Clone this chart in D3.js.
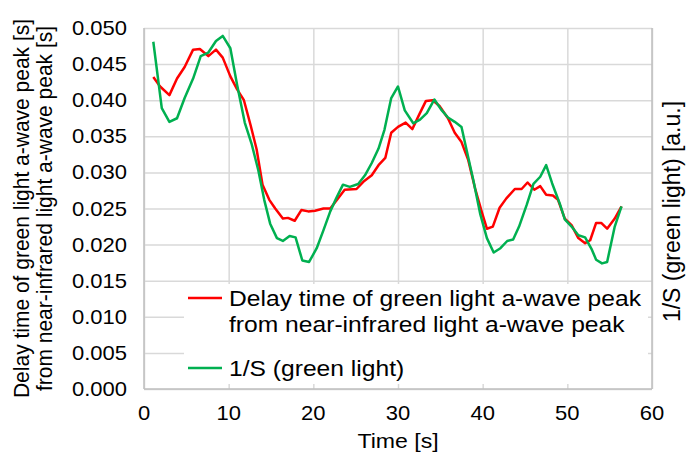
<!DOCTYPE html>
<html><head><meta charset="utf-8">
<script src="https://cdn.jsdelivr.net/npm/d3@7"></script>
<style>
html,body{margin:0;padding:0;background:#fff;}
svg{display:block;font-family:"Liberation Sans",Arial,sans-serif;}
</style></head>
<body><svg id="c" width="686" height="461"></svg>
<script>
const xTicks = [0,10,20,30,40,50,60];
const yTicks = [0,0.005,0.010,0.015,0.020,0.025,0.030,0.035,0.040,0.045,0.050];
const redTime = [1.1,1.9,3.0,3.9,4.8,5.8,6.6,7.6,8.5,9.3,10.2,11.0,11.8,12.6,13.3,14.0,14.8,15.5,16.4,17.0,17.8,18.6,19.4,20.2,21.2,22.0,22.8,23.7,25.1,25.9,26.9,27.7,28.5,29.2,30.0,30.9,31.7,32.5,33.3,34.1,34.9,35.9,36.7,37.5,38.3,39.1,39.9,40.5,41.2,42.0,42.8,43.8,44.6,45.3,46.1,46.8,47.5,48.3,48.9,49.7,50.5,51.3,52.1,52.7,53.4,54.0,54.7,55.6,56.4];
const redVal = [0.0432,0.0419,0.0407,0.0430,0.0446,0.0470,0.0471,0.0461,0.0470,0.0459,0.0433,0.0415,0.0400,0.0365,0.0332,0.0283,0.0262,0.0250,0.0236,0.0237,0.0233,0.0248,0.0246,0.0247,0.0250,0.0250,0.0262,0.0276,0.0277,0.0287,0.0296,0.0310,0.0320,0.0355,0.0363,0.0369,0.0360,0.0380,0.0399,0.0400,0.0392,0.0375,0.0355,0.0342,0.0317,0.0278,0.0245,0.0222,0.0225,0.0251,0.0264,0.0277,0.0277,0.0286,0.0276,0.0281,0.0269,0.0268,0.0262,0.0236,0.0227,0.0209,0.0202,0.0206,0.0230,0.0230,0.0222,0.0236,0.0253];
const greenTime = [1.1,2.1,3.0,3.9,4.8,5.8,6.7,7.6,8.5,9.3,10.2,11.0,11.9,12.7,13.5,14.2,14.9,15.7,16.4,17.2,17.9,18.7,19.5,20.4,21.2,22.0,22.7,23.5,24.3,25.3,26.1,26.9,27.7,28.4,29.2,30.0,30.8,31.8,32.6,33.4,34.3,35.1,35.9,36.7,37.5,38.1,38.9,39.7,40.5,41.3,42.1,42.9,43.6,44.3,45.2,46.0,46.8,47.5,48.2,49.1,49.7,50.5,51.3,52.1,52.9,53.4,54.1,54.7,55.6,56.4];
const greenVal = [0.0481,0.0389,0.0370,0.0375,0.0403,0.0430,0.0461,0.0466,0.0482,0.0489,0.0472,0.0421,0.0369,0.0340,0.0303,0.0262,0.0229,0.0209,0.0205,0.0212,0.0210,0.0178,0.0176,0.0195,0.0220,0.0246,0.0264,0.0283,0.0280,0.0284,0.0296,0.0313,0.0333,0.0359,0.0403,0.0419,0.0386,0.0368,0.0373,0.0382,0.0401,0.0387,0.0376,0.0370,0.0363,0.0331,0.0289,0.0243,0.0209,0.0189,0.0195,0.0205,0.0207,0.0225,0.0255,0.0284,0.0294,0.0310,0.0285,0.0257,0.0235,0.0225,0.0213,0.0210,0.0193,0.0179,0.0174,0.0176,0.0225,0.0253];
const redLabel = ["Delay time of green light a-wave peak","from near-infrared light a-wave peak"];
const greenLabel = "1/S (green light)";
const yTitle = ["Delay time of green light a-wave peak [s]","from near-infrared light a-wave peak [s]"];
const y2Title = "1/S (green light) [a.u.]";
const xTitle = "Time [s]";

const svg = d3.select("#c");
const L=144, R=652, T=28, B=389;
const x = d3.scaleLinear().domain([0,60]).range([L,R]);
const y = d3.scaleLinear().domain([0,0.05]).range([B,T]);
const y2 = d3.scaleLinear().domain([0,0.05]).range([B,T]);

// text stretched horizontally on screen (sx) whatever its rotation
function txt(px, py, str, size, sx, anchor, rot){
  const tr = rot ? `translate(${px},${py}) rotate(${rot}) scale(1,${sx})` : `translate(${px},${py}) scale(${sx},1)`;
  const g = svg.append("g").attr("transform",tr);
  g.append("text").attr("x",0).attr("y",0).attr("font-size",size).attr("text-anchor",anchor||"start").attr("fill","#000").text(str);
  return g;
}

// gridlines
const gx = svg.append("g").attr("transform",`translate(0,${B})`)
  .call(d3.axisBottom(x).tickValues(xTicks).tickSize(-(B-T)).tickFormat(""));
gx.select(".domain").remove();
gx.selectAll("line").attr("stroke","#d9d9d9").attr("stroke-width",1.5);
const gy = svg.append("g").attr("transform",`translate(${L},0)`)
  .call(d3.axisLeft(y).tickValues(yTicks).tickSize(-(R-L)).tickFormat(""));
gy.select(".domain").remove();
gy.selectAll("line").attr("stroke","#d9d9d9").attr("stroke-width",1.5);

// frame
svg.append("line").attr("x1",L).attr("x2",L).attr("y1",T).attr("y2",B).attr("stroke","#bfbfbf").attr("stroke-width",1.5);
svg.append("line").attr("x1",R).attr("x2",R).attr("y1",T).attr("y2",B).attr("stroke","#bfbfbf").attr("stroke-width",1.5);
svg.append("line").attr("x1",L).attr("x2",R).attr("y1",B).attr("y2",B).attr("stroke","#bfbfbf").attr("stroke-width",1.5);

// tick labels (placed with the scales)
const fx = d3.format("d"), fy = d3.format(".3f");
xTicks.forEach(t => txt(x(t), 420, fx(t), 20, 1.1, "middle"));
yTicks.forEach(v => txt(L-17, y(v)+7, fy(v), 20, 1.1, "end"));

// lines
const redData = redTime.map((t,i)=>[t,redVal[i]]);
const greenData = greenTime.map((t,i)=>[t,greenVal[i]]);
svg.append("path").datum(redData)
  .attr("d",d3.line().x(d=>x(d[0])).y(d=>y(d[1])))
  .attr("fill","none").attr("stroke","#ff0000").attr("stroke-width",2.5).attr("stroke-linejoin","round");
svg.append("path").datum(greenData)
  .attr("d",d3.line().x(d=>x(d[0])).y(d=>y2(d[1])))
  .attr("fill","none").attr("stroke","#00b050").attr("stroke-width",2.5).attr("stroke-linejoin","round");

// legend
svg.append("rect").attr("x",184).attr("y",284).attr("width",464).attr("height",100).attr("fill","#fff");
svg.append("line").attr("x1",188).attr("x2",222).attr("y1",298).attr("y2",298).attr("stroke","#ff0000").attr("stroke-width",2.5);
svg.append("line").attr("x1",188).attr("x2",222).attr("y1",368).attr("y2",368).attr("stroke","#00b050").attr("stroke-width",2.5);
txt(229, 306, redLabel[0], 22, 1.12, "start");
txt(229, 332, redLabel[1], 22, 1.12, "start");
txt(229, 376, greenLabel, 22, 1.12, "start");

// titles
txt((L+R)/2, 448, xTitle, 21, 1.1, "middle");
txt(29, (T+B)/2, yTitle[0], 21, 1.05, "middle", -90);
txt(52, (T+B)/2, yTitle[1], 21, 1.05, "middle", -90);
txt(680, (T+B)/2+3, y2Title, 23, 1.05, "middle", -90);
</script></body></html>
